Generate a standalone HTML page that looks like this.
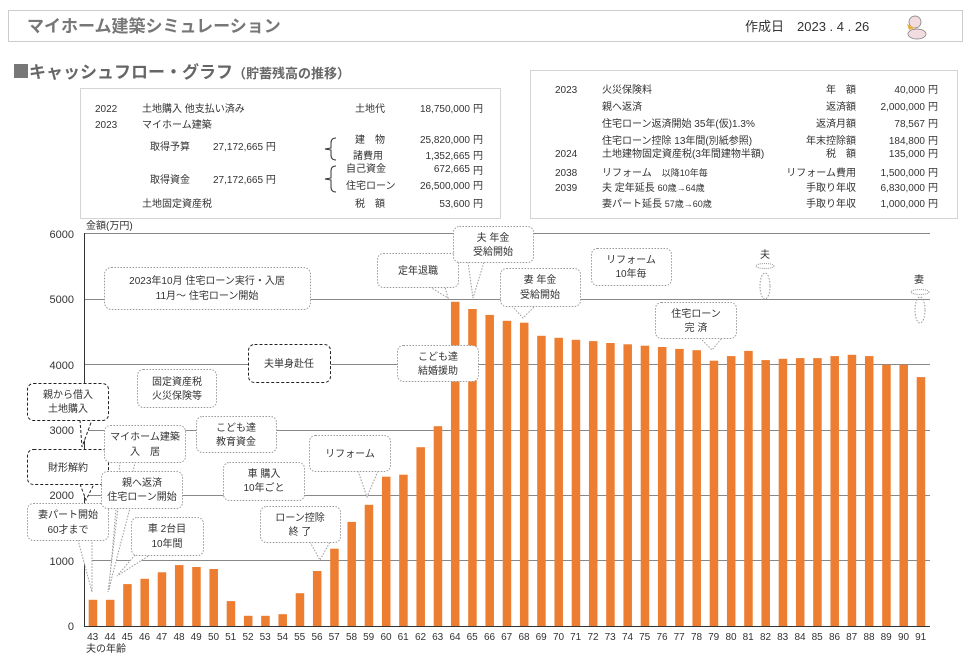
<!DOCTYPE html>
<html><head><meta charset="utf-8"><style>
html,body{margin:0;padding:0;background:#fff;}
svg{display:block;font-family:"Liberation Sans","Noto Sans CJK JP",sans-serif;}
.t{font-size:10px;fill:#333;}
.c{font-size:10px;fill:#333;text-anchor:middle;}
.r{text-anchor:end;}
.dot{fill:#fff;stroke:#999;stroke-width:1;stroke-dasharray:1.5 1.5;}
.dash{fill:#fff;stroke:#222;stroke-width:1;stroke-dasharray:3 2;}
</style></head><body>
<svg width="976" height="671" viewBox="0 0 976 671" xmlns="http://www.w3.org/2000/svg">
<rect x="8.5" y="10.5" width="954" height="31" fill="#fff" stroke="#ccc"/>
<text x="27" y="32" style="font-size:17px;font-weight:bold;fill:#777">マイホーム建築シミュレーション</text>
<text x="745" y="31" style="font-size:13px;fill:#333">作成日　2023 . 4 . 26</text>
<g transform="translate(903,12)"><ellipse cx="12" cy="10" rx="6" ry="6" fill="#f3dce0" stroke="#777" stroke-width="0.7"/><path d="M4 12 L12 16 L6 18Z" fill="#e8b040"/><ellipse cx="14" cy="22" rx="9" ry="5" fill="#f3dce0" stroke="#777" stroke-width="0.7"/></g>
<rect x="14" y="64" width="14" height="14" fill="#777"/>
<text x="29" y="78" style="font-size:17px;font-weight:bold;fill:#666">キャッシュフロー・グラフ<tspan style="font-size:13px">（貯蓄残高の推移）</tspan></text>

<rect x="80.5" y="88.5" width="420" height="130" fill="none" stroke="#aaa" stroke-dasharray="1 1"/>
<g>
<text x="95" y="112" class="t">2022</text><text x="142" y="112" class="t">土地購入  他支払い済み</text><text x="355" y="112" class="t">土地代</text><text x="470" y="112" class="t r">18,750,000</text><text x="473" y="112" class="t">円</text>
<text x="95" y="128" class="t">2023</text><text x="142" y="128" class="t">マイホーム建築</text>
<text x="150" y="150" class="t">取得予算</text><text x="213" y="150" class="t">27,172,665 円</text>
<text x="355" y="143" class="t">建　物</text><text x="470" y="143" class="t r">25,820,000</text><text x="473" y="143" class="t">円</text>
<text x="353" y="159" class="t">諸費用</text><text x="470" y="159" class="t r">1,352,665</text><text x="473" y="159" class="t">円</text>
<text x="150" y="183" class="t">取得資金</text><text x="213" y="183" class="t">27,172,665 円</text>
<text x="346" y="172" class="t">自己資金</text><text x="470" y="172" class="t r">672,665</text><text x="473" y="174" class="t">円</text>
<text x="346" y="189" class="t">住宅ローン</text><text x="470" y="189" class="t r">26,500,000</text><text x="473" y="189" class="t">円</text>
<text x="142" y="207" class="t">土地固定資産税</text><text x="355" y="207" class="t">税　額</text><text x="470" y="207" class="t r">53,600</text><text x="473" y="207" class="t">円</text>
</g>
<path d="M336 138 Q331 138 331 143 L331 148 L325 149 L331 150 L331 155 Q331 160 336 160" fill="none" stroke="#333"/>
<path d="M336 166 Q331 166 331 171 L331 178 L325 179 L331 180 L331 187 Q331 192 336 192" fill="none" stroke="#333"/>

<rect x="530.5" y="70.5" width="427" height="148" fill="none" stroke="#aaa" stroke-dasharray="1 1"/>
<g>
<text x="555" y="93" class="t">2023</text><text x="602" y="93" class="t">火災保険料</text><text x="856" y="93" class="t r">年　額</text><text x="925" y="93" class="t r">40,000</text><text x="928" y="93" class="t">円</text>
<text x="602" y="110" class="t">親へ返済</text><text x="856" y="110" class="t r">返済額</text><text x="925" y="110" class="t r">2,000,000</text><text x="928" y="110" class="t">円</text>
<text x="602" y="127" class="t">住宅ローン返済開始  35年(仮)1.3%</text><text x="856" y="127" class="t r">返済月額</text><text x="925" y="127" class="t r">78,567</text><text x="928" y="127" class="t">円</text>
<text x="602" y="144" class="t">住宅ローン控除 13年間(別紙参照)</text><text x="856" y="144" class="t r">年末控除額</text><text x="925" y="144" class="t r">184,800</text><text x="928" y="144" class="t">円</text>
<text x="555" y="157" class="t">2024</text><text x="602" y="157" class="t">土地建物固定資産税(3年間建物半額)</text><text x="856" y="157" class="t r">税　額</text><text x="925" y="157" class="t r">135,000</text><text x="928" y="157" class="t">円</text>
<text x="555" y="176" class="t">2038</text><text x="602" y="176" class="t">リフォーム　<tspan style="font-size:9px">以降10年毎</tspan></text><text x="856" y="176" class="t r">リフォーム費用</text><text x="925" y="176" class="t r">1,500,000</text><text x="928" y="176" class="t">円</text>
<text x="555" y="191" class="t">2039</text><text x="602" y="191" class="t">夫 定年延長 <tspan style="font-size:9px">60歳→64歳</tspan></text><text x="856" y="191" class="t r">手取り年収</text><text x="925" y="191" class="t r">6,830,000</text><text x="928" y="191" class="t">円</text>
<text x="602" y="207" class="t">妻パート延長 <tspan style="font-size:9px">57歳→60歳</tspan></text><text x="856" y="207" class="t r">手取り年収</text><text x="925" y="207" class="t r">1,000,000</text><text x="928" y="207" class="t">円</text>
</g>

<text x="86" y="229" class="t">金額(万円)</text>
<g stroke="#888" stroke-width="1">
<line x1="84" y1="233.5" x2="930" y2="233.5"/><line x1="84" y1="299.5" x2="930" y2="299.5"/><line x1="84" y1="364.5" x2="930" y2="364.5"/><line x1="84" y1="430.5" x2="930" y2="430.5"/><line x1="84" y1="495.5" x2="930" y2="495.5"/><line x1="84" y1="560.5" x2="930" y2="560.5"/>
</g>
<g style="font-size:11px;fill:#333" text-anchor="end">
<text x="74" y="238">6000</text><text x="74" y="303">5000</text><text x="74" y="369">4000</text><text x="74" y="434">3000</text><text x="74" y="499">2000</text><text x="74" y="565">1000</text><text x="74" y="630">0</text>
</g>

<g fill="#ED7D31">
<rect x="88.7" y="599.8" width="8.5" height="26.2"/>
<rect x="105.95" y="599.8" width="8.5" height="26.2"/>
<rect x="123.2" y="584.1" width="8.5" height="41.9"/>
<rect x="140.45" y="578.8" width="8.5" height="47.2"/>
<rect x="157.7" y="572.3" width="8.5" height="53.7"/>
<rect x="174.95" y="565.1" width="8.5" height="60.9"/>
<rect x="192.2" y="567" width="8.5" height="59"/>
<rect x="209.45" y="569" width="8.5" height="57"/>
<rect x="226.7" y="601.1" width="8.5" height="24.9"/>
<rect x="243.95" y="615.8" width="8.5" height="10.2"/>
<rect x="261.2" y="615.8" width="8.5" height="10.2"/>
<rect x="278.45" y="614.2" width="8.5" height="11.8"/>
<rect x="295.7" y="593.2" width="8.5" height="32.8"/>
<rect x="312.95" y="571" width="8.5" height="55"/>
<rect x="330.2" y="548.7" width="8.5" height="77.3"/>
<rect x="347.45" y="521.9" width="8.5" height="104.1"/>
<rect x="364.7" y="504.8" width="8.5" height="121.2"/>
<rect x="381.95" y="476.7" width="8.5" height="149.3"/>
<rect x="399.2" y="474.7" width="8.5" height="151.3"/>
<rect x="416.45" y="447.2" width="8.5" height="178.8"/>
<rect x="433.7" y="426.2" width="8.5" height="199.8"/>
<rect x="450.95" y="301.8" width="8.5" height="324.2"/>
<rect x="468.2" y="309" width="8.5" height="317"/>
<rect x="485.45" y="314.9" width="8.5" height="311.1"/>
<rect x="502.7" y="320.8" width="8.5" height="305.2"/>
<rect x="519.95" y="322.7" width="8.5" height="303.3"/>
<rect x="537.2" y="335.8" width="8.5" height="290.2"/>
<rect x="554.45" y="337.8" width="8.5" height="288.2"/>
<rect x="571.7" y="339.8" width="8.5" height="286.2"/>
<rect x="588.95" y="341.1" width="8.5" height="284.9"/>
<rect x="606.2" y="343" width="8.5" height="283"/>
<rect x="623.45" y="344.3" width="8.5" height="281.7"/>
<rect x="640.7" y="345.7" width="8.5" height="280.3"/>
<rect x="657.95" y="347" width="8.5" height="279"/>
<rect x="675.2" y="348.9" width="8.5" height="277.1"/>
<rect x="692.45" y="350.2" width="8.5" height="275.8"/>
<rect x="709.7" y="360.7" width="8.5" height="265.3"/>
<rect x="726.95" y="356.1" width="8.5" height="269.9"/>
<rect x="744.2" y="350.9" width="8.5" height="275.1"/>
<rect x="761.45" y="360.1" width="8.5" height="265.9"/>
<rect x="778.7" y="358.8" width="8.5" height="267.2"/>
<rect x="795.95" y="358.1" width="8.5" height="267.9"/>
<rect x="813.2" y="358.1" width="8.5" height="267.9"/>
<rect x="830.45" y="356.1" width="8.5" height="269.9"/>
<rect x="847.7" y="354.8" width="8.5" height="271.2"/>
<rect x="864.95" y="356.1" width="8.5" height="269.9"/>
<rect x="882.2" y="364.7" width="8.5" height="261.3"/>
<rect x="899.45" y="364.7" width="8.5" height="261.3"/>
<rect x="916.7" y="377.1" width="8.5" height="248.9"/>
</g>
<line x1="84.5" y1="233" x2="84.5" y2="626" stroke="#333"/>
<line x1="84" y1="626.5" x2="930" y2="626.5" stroke="#333"/>

<g>
<path d="M80 420 L82 447 L92 420" class="dash"/><rect x="27.5" y="383.5" width="81" height="37" rx="6" class="dash"/>
<text x="68" y="398" class="c">親から借入</text><text x="68" y="412" class="c">土地購入</text>
<path d="M80 484 L86 500 L94 484" class="dash"/><rect x="27.5" y="449.5" width="81" height="35" rx="6" class="dash"/>
<text x="68" y="471" class="c">財形解約</text>
<path d="M78 540 L92 592 L92 540" class="dot"/><rect x="27.5" y="503.5" width="81" height="37" rx="6" class="dot"/>
<text x="68" y="518" class="c">妻パート開始</text><text x="68" y="533" class="c">60才まで</text>
<path d="M120 462 L109 590 L135 462" class="dot"/><rect x="104.5" y="425.5" width="81" height="37" rx="6" class="dot"/>
<text x="145" y="440" class="c">マイホーム建築</text><text x="145" y="455" class="c">入　居</text>
<path d="M118 508 L108 592 L130 508" class="dot"/><rect x="101.5" y="471.5" width="81" height="37" rx="6" class="dot"/>
<text x="142" y="486" class="c">親へ返済</text><text x="142" y="500" class="c">住宅ローン開始</text>
<path d="M135 555 L117 576 L150 555" class="dot"/><rect x="131.5" y="517.5" width="72" height="38" rx="6" class="dot"/>
<text x="167" y="532" class="c">車  2台目</text><text x="167" y="547" class="c">10年間</text>
<rect x="104.5" y="267.5" width="206" height="42" rx="7" class="dot"/>
<text x="207" y="284" class="c">2023年10月  住宅ローン実行・入居</text><text x="207" y="299" class="c">11月～  住宅ローン開始</text>
<rect x="248.5" y="344.5" width="82" height="38" rx="6" class="dash"/><text x="289" y="367" class="c">夫単身赴任</text>
<rect x="137.5" y="369.5" width="79" height="38" rx="6" class="dot"/><text x="177" y="385" class="c">固定資産税</text><text x="177" y="399" class="c">火災保険等</text>
<rect x="196.5" y="416.5" width="80" height="36" rx="6" class="dot"/><text x="236" y="431" class="c">こども達</text><text x="236" y="445" class="c">教育資金</text>
<rect x="223.5" y="462.5" width="81" height="38" rx="6" class="dot"/><text x="264" y="477" class="c">車  購入</text><text x="264" y="491" class="c">10年ごと</text>
<path d="M358 471 L367 497 L378 471" class="dot"/><rect x="309.5" y="435.5" width="81" height="36" rx="6" class="dot"/><text x="350" y="457" class="c">リフォーム</text>
<path d="M310 542 L320 560 L330 542" class="dot"/><rect x="260.5" y="506.5" width="80" height="36" rx="6" class="dot"/><text x="300" y="521" class="c">ローン控除</text><text x="300" y="535" class="c">終  了</text>
<path d="M430 287 L448 298 L445 287" class="dot"/><rect x="377.5" y="253.5" width="81" height="34" rx="6" class="dot"/><text x="418" y="274" class="c">定年退職</text>
<path d="M468 262 L473 298 L484 262" class="dot"/><rect x="453.5" y="226.5" width="80" height="36" rx="6" class="dot"/><text x="493" y="241" class="c">夫  年金</text><text x="493" y="255" class="c">受給開始</text>
<path d="M512 306 L523 318 L535 306" class="dot"/><rect x="500.5" y="268.5" width="80" height="38" rx="6" class="dot"/><text x="540" y="283" class="c">妻  年金</text><text x="540" y="298" class="c">受給開始</text>
<rect x="397.5" y="345.5" width="81" height="36" rx="6" class="dot"/><text x="438" y="360" class="c">こども達</text><text x="438" y="374" class="c">結婚援助</text>
<rect x="591.5" y="248.5" width="80" height="37" rx="6" class="dot"/><text x="631" y="263" class="c">リフォーム</text><text x="631" y="277" class="c">10年毎</text>
<path d="M700 338 L712 350 L722 338" class="dot"/><rect x="655.5" y="302.5" width="81" height="36" rx="6" class="dot"/><text x="696" y="317" class="c">住宅ローン</text><text x="696" y="331" class="c">完  済</text>
<text x="765" y="258" class="c">夫</text><ellipse cx="765" cy="266" rx="9" ry="2.5" fill="none" stroke="#999" stroke-dasharray="1 1"/><ellipse cx="765" cy="286" rx="5" ry="13" fill="none" stroke="#999" stroke-dasharray="1.5 1.5"/>
<text x="919" y="283" class="c">妻</text><ellipse cx="920" cy="292" rx="9" ry="2.5" fill="none" stroke="#999" stroke-dasharray="1 1"/><ellipse cx="920" cy="310" rx="5" ry="13" fill="none" stroke="#999" stroke-dasharray="1.5 1.5"/>
</g>

<g style="font-size:10px;fill:#333" text-anchor="middle">
<text x="92.7" y="640">43</text><text x="110" y="640">44</text><text x="127.2" y="640">45</text><text x="144.5" y="640">46</text><text x="161.7" y="640">47</text><text x="179" y="640">48</text><text x="196.2" y="640">49</text><text x="213.5" y="640">50</text><text x="230.7" y="640">51</text><text x="248" y="640">52</text><text x="265.2" y="640">53</text><text x="282.5" y="640">54</text><text x="299.7" y="640">55</text><text x="317" y="640">56</text><text x="334.2" y="640">57</text><text x="351.5" y="640">58</text><text x="368.7" y="640">59</text><text x="386" y="640">60</text><text x="403.2" y="640">61</text><text x="420.5" y="640">62</text><text x="437.7" y="640">63</text><text x="455" y="640">64</text><text x="472.2" y="640">65</text><text x="489.5" y="640">66</text><text x="506.7" y="640">67</text><text x="524" y="640">68</text><text x="541.2" y="640">69</text><text x="558.5" y="640">70</text><text x="575.7" y="640">71</text><text x="593" y="640">72</text><text x="610.2" y="640">73</text><text x="627.5" y="640">74</text><text x="644.7" y="640">75</text><text x="662" y="640">76</text><text x="679.2" y="640">77</text><text x="696.5" y="640">78</text><text x="713.7" y="640">79</text><text x="731" y="640">80</text><text x="748.2" y="640">81</text><text x="765.5" y="640">82</text><text x="782.7" y="640">83</text><text x="800" y="640">84</text><text x="817.2" y="640">85</text><text x="834.5" y="640">86</text><text x="851.7" y="640">87</text><text x="869" y="640">88</text><text x="886.2" y="640">89</text><text x="903.5" y="640">90</text><text x="920.7" y="640">91</text>
</g>
<text x="86" y="652" class="t">夫の年齢</text>
</svg>
</body></html>
